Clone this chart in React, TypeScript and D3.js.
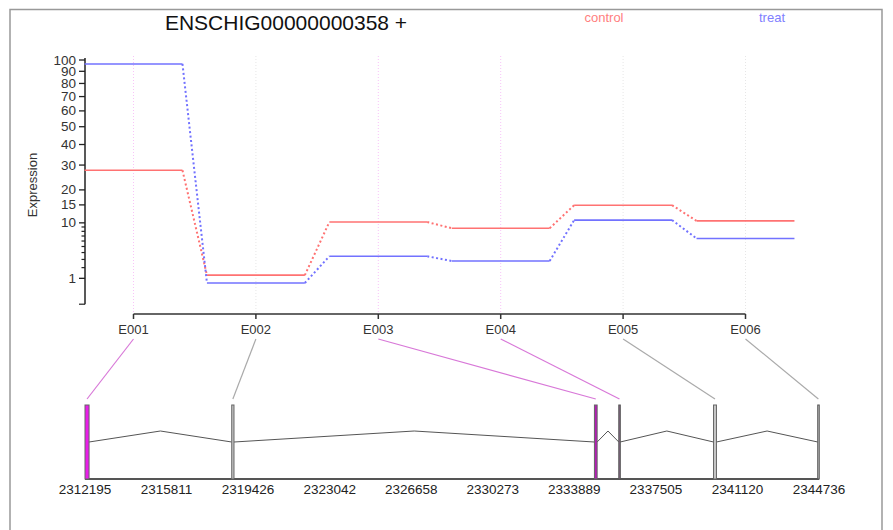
import React from "react";
import * as d3 from "d3";

// exon bins and fitted expression per condition
const exons = ["E001", "E002", "E003", "E004", "E005", "E006"];
const control = [27.7, 1.26, 10.2, 8.7, 14.9, 10.5];
const treat = [96.4, 0.67, 3.44, 2.79, 10.7, 6.5];
const significant = [true, false, true, true, false, false];

// exon genomic coordinates
const exonStart = [2312195, 2318700, 2334780, 2335860, 2340060, 2344680];
const exonEnd = [2312375, 2318800, 2334900, 2335920, 2340190, 2344736];

const yTicksMajor = [1, 10, 15, 20, 30, 40, 50, 60, 70, 80, 90, 100];
const yTicksMinor = [0, 2, 3, 4, 5, 6, 7, 8, 9];
const genomeTicks = [2312195, 2315811, 2319426, 2323042, 2326658, 2330273, 2333889, 2337505, 2341120, 2344736];

const FONT = "'Liberation Sans', Arial, sans-serif";

// vst-like transform used on the expression axis
const vst = (v: number) => Math.asinh(Math.sqrt(0.004 * v));

export default function App() {
  const x = d3.scaleLinear().domain([1, 6]).range([133.5, 745.5]);
  const yT = d3.scaleLinear().domain([0, vst(100)]).range([304.2, 60]);
  const y = (v: number) => yT(vst(v));
  const g = d3.scaleLinear().domain([2312195, 2344736]).range([85, 819]);

  const half = 0.4;
  const series = [
    { name: "control", values: control, color: "#ff7272" },
    { name: "treat", values: treat, color: "#7272ff" },
  ];

  const exonTop = 405, exonBottom = 479, intronBase = 442, intronPeak = 431;

  return (
    <svg width={893} height={530} style={{ position: "absolute", left: 0, top: 0 }} fontFamily={FONT}>
      <rect x={0} y={0} width={893} height={530} fill="#fff" />
      <rect x={10} y={9.5} width={872} height={540} fill="none" stroke="#999" strokeWidth={1.5} />

      <text x={286} y={30} fontSize={21} textAnchor="middle" fill="#111">ENSCHIG00000000358 +</text>
      <text x={604} y={22} fontSize={13} textAnchor="middle" fill="#ff8080">control</text>
      <text x={772} y={22} fontSize={13} textAnchor="middle" fill="#8080ff">treat</text>

      {/* vertical guides */}
      {exons.map((e, i) => (
        <line key={e} x1={x(i + 1)} x2={x(i + 1)} y1={56} y2={314}
          stroke={significant[i] ? "#f8c4f8" : "#e6e6e6"} strokeWidth={1} strokeDasharray="1,2" />
      ))}

      {/* y axis */}
      <line x1={85} x2={85} y1={y(100) - 2} y2={y(0)} stroke="#222" strokeWidth={1.5} />
      {yTicksMajor.map((t) => (
        <g key={t}>
          <line x1={79} x2={85} y1={y(t)} y2={y(t)} stroke="#222" strokeWidth={1.3} />
          <text x={76} y={y(t) + 4.5} fontSize={13.5} textAnchor="end" fill="#333">{t}</text>
        </g>
      ))}
      {yTicksMinor.map((t) => (
        <line key={t} x1={t === 0 ? 79 : 81.5} x2={85} y1={y(t)} y2={y(t)} stroke="#222" strokeWidth={1.2} />
      ))}
      <text transform="translate(37,185) rotate(-90)" fontSize={13} textAnchor="middle" fill="#333">Expression</text>

      {/* x axis */}
      <line x1={x(1)} x2={x(6)} y1={314} y2={314} stroke="#333" strokeWidth={1.5} />
      {exons.map((e, i) => (
        <g key={e}>
          <line x1={x(i + 1)} x2={x(i + 1)} y1={314} y2={319} stroke="#333" strokeWidth={1.5} />
          <text x={x(i + 1)} y={334} fontSize={13} textAnchor="middle" fill="#333">{e}</text>
        </g>
      ))}

      {/* expression lines */}
      {series.map((s) => (
        <g key={s.name}>
          {s.values.map((v, i) => (
            <line key={"s" + i} x1={x(i + 1 - half)} x2={x(i + 1 + half)} y1={y(v)} y2={y(v)}
              stroke={s.color} strokeWidth={1.6} />
          ))}
          {s.values.slice(1).map((v, i) => (
            <line key={"d" + i} x1={x(i + 1 + half)} x2={x(i + 2 - half)} y1={y(s.values[i])} y2={y(v)}
              stroke={s.color} strokeWidth={2} strokeDasharray="2,2.5" />
          ))}
        </g>
      ))}

      {/* connectors from exon labels to gene model */}
      {exons.map((e, i) => (
        <line key={e} x1={x(i + 1)} y1={339} x2={g((exonStart[i] + exonEnd[i]) / 2)} y2={399}
          stroke={significant[i] ? "#d878d8" : "#aaaaaa"} strokeWidth={1.2} />
      ))}

      {/* introns */}
      {exons.slice(1).map((e, i) => {
        const a = g(exonEnd[i]);
        const b = g(exonStart[i + 1]);
        return (
          <polyline key={e} points={`${a},${intronBase} ${(a + b) / 2},${intronPeak} ${b},${intronBase}`}
            fill="none" stroke="#555" strokeWidth={1} />
        );
      })}

      {/* genomic axis */}
      <line x1={g(2312195)} x2={g(2344736)} y1={exonBottom} y2={exonBottom} stroke="#555" strokeWidth={2} />
      {genomeTicks.map((t) => (
        <text key={t} x={g(t)} y={494} fontSize={13.5} textAnchor="middle" fill="#222">{t}</text>
      ))}

      {/* exons */}
      {exons.map((e, i) => {
        const x0 = g(exonStart[i]);
        const w = Math.max(g(exonEnd[i]) - x0, 1.5);
        const fill = significant[i] ? (i === 0 ? "#e81ee8" : i === 2 ? "#b41cb4" : "#8a6a8a") : "#c8c8c8";
        return (
          <rect key={e} x={x0} y={exonTop} width={w} height={exonBottom - exonTop}
            fill={fill} stroke={i === 3 || i === 5 ? "#555" : "#666"} strokeWidth={1} />
        );
      })}
    </svg>
  );
}
